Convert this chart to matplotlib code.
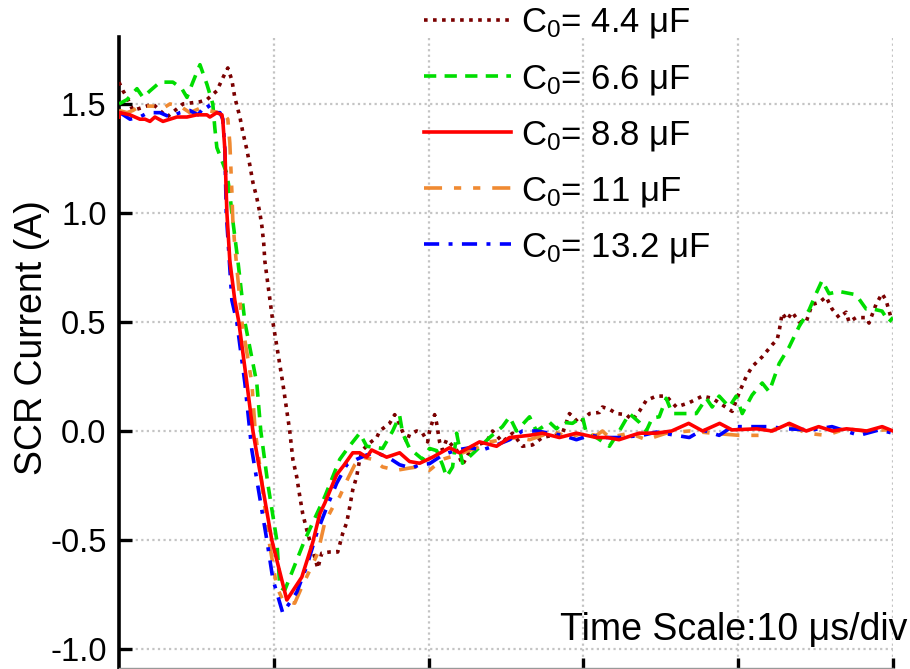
import numpy as np
import matplotlib.pyplot as plt

plt.rcParams['font.family'] = ['Liberation Sans', 'DejaVu Sans']
plt.rcParams['mathtext.fontset'] = 'custom'
plt.rcParams['mathtext.rm'] = 'Liberation Sans'
plt.rcParams['mathtext.it'] = 'Liberation Sans:italic'

# SCR current traces, time in us, current in A
t_44 = [0, 0.26, 0.52, 0.90, 1.35, 2.19, 3.10, 4.13, 5.23, 5.68, 6.32, 6.71, 7.03, 7.29, 7.48,
        7.81, 8.0, 8.26, 8.45, 8.65, 8.90, 9.10, 9.23, 9.35, 9.42, 9.94, 10.58, 11.03, 11.23,
        11.48, 11.68, 11.87, 12.19, 12.65, 12.84, 13.10, 13.61, 14.13, 14.45, 14.71, 14.90,
        15.10, 15.35, 15.55, 15.74, 16.19, 16.65, 16.84, 17.48, 17.81, 18.13, 18.58, 18.77,
        19.23, 19.61, 19.94, 20.06, 20.39, 20.52, 20.71, 20.90, 21.16, 21.81, 22.19, 22.84,
        23.74, 24.13, 24.77, 25.42, 26.06, 26.71, 27.35, 28.65, 29.10, 29.74, 30.39, 31.03,
        31.23, 31.68, 32.13, 32.77, 33.16, 33.61, 34.06, 34.71, 35.35, 36.0, 36.84, 37.68,
        38.32, 38.97, 39.61, 40.06, 40.52, 40.90, 41.55, 42.19, 42.52, 42.65, 42.84, 43.16,
        43.48, 43.94, 44.39, 44.77, 45.23, 45.68, 46.06, 46.52, 46.97, 47.16, 47.61, 48.26,
        48.45, 48.90, 49.29, 49.55, 49.87]
i_44 = [1.60, 1.56, 1.53, 1.47, 1.48, 1.50, 1.44, 1.50, 1.51, 1.52, 1.56, 1.62, 1.665, 1.61, 1.53,
        1.44, 1.37, 1.29, 1.22, 1.14, 1.07, 1.0, 0.94, 0.86, 0.78, 0.50, 0.22, 0.0, -0.13,
        -0.21, -0.30, -0.38, -0.47, -0.58, -0.63, -0.56, -0.555, -0.555, -0.47, -0.42, -0.35,
        -0.27, -0.21, -0.13, -0.087, -0.055, -0.03, 0.0, 0.035, 0.075, 0.03, -0.05, -0.015,
        0.0, -0.01, -0.05, 0.0, 0.075, 0.035, -0.05, -0.087, -0.04, -0.087, -0.155, -0.07,
        -0.05, 0.0, -0.05, -0.01, -0.07, -0.064, -0.03, -0.01, 0.08, 0.035, 0.08, 0.085,
        0.11, 0.10, 0.08, 0.075, 0.05, 0.09, 0.14, 0.16, 0.16, 0.11, 0.13, 0.16,
        0.15, 0.12, 0.09, 0.175, 0.25, 0.295, 0.34, 0.395, 0.42, 0.46, 0.54, 0.51,
        0.545, 0.50, 0.50, 0.58, 0.59, 0.615, 0.56, 0.52, 0.545, 0.50, 0.52, 0.52,
        0.495, 0.58, 0.63, 0.60, 0.52]

t_66 = [0, 0.52, 1.16, 1.55, 2.0, 2.65, 3.48, 4.06, 4.39, 4.77, 5.23, 5.68, 6.06, 6.19, 6.32,
        6.97, 7.16, 7.29, 7.68, 8.13, 8.90, 9.16, 9.61, 10.19, 10.39, 10.71, 11.16, 12.0,
        13.3, 14.26, 14.77, 15.55, 16.0, 17.03, 17.68, 18.13, 18.32, 18.77, 19.61, 20.06,
        20.52, 20.90, 21.16, 21.55, 21.81, 22.19, 23.10, 23.94, 24.77, 25.23, 25.68, 26.52,
        26.97, 27.81, 28.26, 28.65, 29.29, 29.94, 30.19, 30.84, 31.68, 32.32, 32.97, 33.61,
        34.06, 34.45, 34.90, 35.35, 35.74, 36.65, 37.29, 37.94, 38.32, 38.77, 39.42, 39.87,
        40.26, 40.90, 41.55, 42.0, 42.65, 43.29, 43.94, 44.58, 45.03, 45.42, 45.87, 46.52,
        47.61, 48.26, 48.65, 49.29, 49.74, 50.0]
i_66 = [1.50, 1.52, 1.57, 1.53, 1.56, 1.60, 1.60, 1.57, 1.53, 1.60, 1.68, 1.59, 1.50, 1.39, 1.30,
        1.18, 1.09, 1.0, 0.78, 0.50, 0.22, 0.0, -0.24, -0.50, -0.715, -0.73, -0.65, -0.50,
        -0.30, -0.13, -0.08, -0.01, -0.07, -0.08, 0.0, 0.07, -0.01, -0.08, -0.13, -0.08,
        -0.09, -0.155, -0.21, -0.165, -0.01, -0.148, -0.087, -0.03, 0.02, 0.065, 0.0, 0.065,
        0.0, 0.04, 0.01, 0.04, 0.035, 0.065, -0.01, -0.03, -0.07, 0.0, 0.08, 0.04,
        0.0, 0.06, 0.065, 0.15, 0.08, 0.08, 0.08, 0.15, 0.11, 0.16, 0.11, 0.16,
        0.08, 0.165, 0.22, 0.18, 0.31, 0.385, 0.48, 0.555, 0.63, 0.69, 0.63, 0.64,
        0.625, 0.56, 0.56, 0.55, 0.50, 0.52]

t_88 = [0, 0.06, 0.71, 1.35, 1.68, 2.0, 2.32, 2.84, 3.29, 3.74, 4.39, 5.03, 5.68, 5.87, 6.32,
        6.65, 6.71, 6.84, 6.97, 7.16, 7.48, 7.74, 8.26, 8.65, 9.87, 10.84, 11.81, 12.52, 12.97,
        13.3, 14.06, 14.5, 15.10, 15.55, 16.0, 16.32, 17.29, 18.13, 18.77, 19.42, 20.26, 21.35,
        22.0, 23.29, 24.39, 25.23, 26.5, 27.35, 28.45, 29.55, 30.84, 31.55, 32.3, 33.6, 34.7,
        35.7, 36.8, 37.7, 38.8, 39.6, 41.2, 42.2, 43.3, 44.4, 45.2, 46.1, 47.0, 48.3, 49.3,
        50.0]
i_88 = [1.44, 1.46, 1.45, 1.43, 1.43, 1.42, 1.44, 1.42, 1.43, 1.44, 1.44, 1.45, 1.45, 1.44, 1.46,
        1.45, 1.42, 1.29, 1.0, 0.78, 0.60, 0.50, 0.22, 0.0, -0.50, -0.775, -0.67, -0.51, -0.38,
        -0.33, -0.20, -0.16, -0.10, -0.10, -0.12, -0.087, -0.12, -0.10, -0.14, -0.148, -0.12, -0.077,
        -0.10, -0.05, -0.07, -0.03, -0.02, -0.01, -0.03, -0.01, -0.03, -0.03, -0.04, -0.01, -0.01,
        0.0, 0.035, 0.0, 0.035, 0.005, 0.01, 0.0, 0.035, 0.0, 0.02, 0.0, 0.01, 0.0, 0.02,
        0.0]

t_11 = [0, 0.52, 0.90, 1.35, 2.19, 2.84, 3.29, 3.94, 4.58, 5.23, 5.68, 6.52, 6.71, 7.03, 7.16,
        7.29, 7.35, 7.48, 7.94, 8.58, 8.80, 9.10, 9.68, 10.19, 10.58, 11.35, 11.81, 12.32, 12.84,
        13.29, 13.81, 14.26, 14.77, 15.23, 15.74, 16.39, 17.03, 17.94, 18.77, 19.23, 20.06, 20.90,
        21.81, 23.10, 23.94, 24.77, 25.68, 26.52, 27.35, 28.0, 29.10, 29.94, 30.84, 31.23, 31.68,
        32.97, 34.06, 35.35, 36.84, 38.32, 40.06, 41.55, 43.10, 44.39, 45.68, 46.97, 48.26, 49.55,
        50.0]
i_11 = [1.47, 1.46, 1.47, 1.49, 1.49, 1.48, 1.50, 1.49, 1.46, 1.48, 1.47, 1.46, 1.46, 1.43, 1.32,
        1.10, 0.97, 0.85, 0.50, 0.22, 0.0, -0.165, -0.50, -0.715, -0.775, -0.79, -0.715, -0.64, -0.56,
        -0.42, -0.35, -0.30, -0.22, -0.155, -0.12, -0.13, -0.165, -0.18, -0.17, -0.165, -0.18, -0.13,
        -0.11, -0.077, -0.05, -0.04, -0.03, -0.04, -0.02, 0.0, -0.03, -0.01, -0.02, 0.0, -0.03,
        -0.01, -0.04, -0.01, 0.0, -0.01, -0.02, -0.02, 0.035, -0.01, -0.02, 0.01, 0.0, 0.005,
        0.0]

t_132 = [0, 0.06, 0.71, 1.35, 1.87, 2.65, 3.29, 3.94, 4.58, 5.10, 5.55, 5.68, 6.06, 6.52, 6.71,
         6.84, 6.93, 7.29, 7.61, 8.13, 8.45, 8.58, 9.55, 9.94, 10.58, 11.48, 12.13, 12.77, 13.42,
         14.06, 14.71, 15.35, 16.0, 16.65, 17.48, 18.13, 18.90, 19.42, 20.06, 20.90, 21.81, 22.65,
         23.48, 24.39, 25.23, 26.06, 26.97, 27.81, 28.65, 29.55, 30.39, 31.48, 32.32, 33.81, 34.71,
         36.84, 37.68, 38.77, 39.61, 40.90, 42.0, 43.10, 44.77, 46.06, 47.81, 49.10, 50.0]
i_132 = [1.46, 1.46, 1.43, 1.44, 1.46, 1.46, 1.44, 1.46, 1.47, 1.45, 1.49, 1.50, 1.46, 1.46, 1.43,
         1.29, 1.0, 0.60, 0.50, 0.22, 0.0, -0.087, -0.50, -0.68, -0.835, -0.74, -0.62, -0.47, -0.35,
         -0.24, -0.155, -0.13, -0.11, -0.10, -0.125, -0.155, -0.17, -0.155, -0.15, -0.11, -0.087, -0.077,
         -0.087, -0.064, -0.04, 0.0, 0.0, -0.01, -0.02, -0.04, -0.02, -0.03, -0.03, -0.02, -0.005,
         -0.03, 0.005, -0.02, 0.02, 0.02, 0.02, 0.01, 0.005, 0.02, -0.02, 0.005, -0.01]

labels = ['C$_0$= 4.4 μF', 'C$_0$= 6.6 μF', 'C$_0$= 8.8 μF', 'C$_0$= 11 μF', 'C$_0$= 13.2 μF']
colors = ['#7a0000', '#00dd00', '#ff0000', '#f08a32', '#0000ff']
styles = [(0, (1, 1.5)), (0, (3.4, 2.3)), '-', (0, (5.0, 3.3, 2.0, 3.3, 2.0, 3.3)),
          (0, (4.2, 2.6, 1.1, 2.6))]
traces = [(t_44, i_44), (t_66, i_66), (t_88, i_88), (t_11, i_11), (t_132, i_132)]

fig = plt.figure(figsize=(9.1, 6.69), dpi=100)
ax = fig.add_axes([119 / 910, 1 / 669, 774 / 910, 631 / 669])

handles = []
for (t, i), lab, c, ls in zip(traces, labels, colors, styles):
    z = 4 if ls == '-' else 3
    h, = ax.plot(t, i, color=c, ls=ls, lw=2.6, label=lab, zorder=z)
    handles.append(h)

ax.set_xlim(0, 50)
ax.set_ylim(-1.087, 1.807)
ax.set_xticks([10, 20, 30, 40, 50])
ax.set_xticklabels([])
ax.set_yticks([-1.0, -0.5, 0.0, 0.5, 1.0, 1.5])
ax.set_yticklabels(['-1.0', '-0.5', '0.0', '0.5', '1.0', '1.5'])
ax.grid(True, color='#c4c4c4', ls=(0, (1, 1.5)), lw=1.6)
ax.set_axisbelow(True)

for s in ['top', 'right']:
    ax.spines[s].set_visible(False)
ax.spines['left'].set_linewidth(2.6)
ax.spines['bottom'].set_linewidth(1.0)
ax.spines['bottom'].set_color('#999999')
ax.tick_params(axis='y', direction='in', length=9, width=2.4, labelsize=23.5, pad=9)
ax.tick_params(axis='x', direction='in', length=7, width=2.4)

fig.text(0.035, 0.495, 'SCR Current (A)', rotation=90, ha='center', va='center', fontsize=27)
fig.text(907 / 910, 29 / 669, 'Time Scale:10 μs/div', ha='right', va='baseline', fontsize=27)

fig.legend(handles=handles, loc='upper left', bbox_to_anchor=(424 / 910, 1 - 6 / 669),
           frameon=False, fontsize=25, borderpad=0, borderaxespad=0,
           handlelength=2.5, handletextpad=0.3, labelspacing=0.62)

fig.savefig('out.png', dpi=100)
